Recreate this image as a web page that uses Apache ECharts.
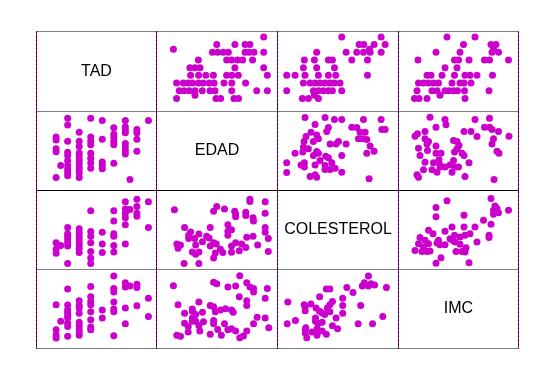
<!DOCTYPE html>
<html>
<head>
<meta charset="utf-8">
<script src="https://cdn.jsdelivr.net/npm/echarts@6/dist/echarts.min.js"></script>
<style>
html,body{margin:0;padding:0;background:#fff;}
#chart{width:554px;height:380px;}
</style>
</head>
<body>
<div id="chart"></div>
<script>
// Variables of the scatterplot matrix
const variables = ['TAD', 'EDAD', 'COLESTEROL', 'IMC'];
const varMin = [51.5, 20, 140, 16];
const varMax = [103.5, 70, 340, 40];

// Pair TAD / EDAD
const tadA = [100, 95,95,95,95, 92, 90,90,90,90,90,90,90,90, 85,85,85,85,85,85, 80,80,80,80,80,
  75,75,75,75,75,75,75,75, 70,70,70,70,70,70,70,70,70,70,70, 65,65,65,65,65,65,65,65,65,65, 62, 60,60,60,60,60];
const edadA = [64.3, 44.9,52.4,56.6,58.6, 27.0, 43.1,45.3,47.6,49.7,56.6,58.3,60.3,64.3, 37.3,49.0,51.1,53.5,55.6,59.7,
  33.8,35.9,38.0,52.4,64.3, 34.1,37.4,40.4,43.5,49.0,51.1,53.8,65.8,
  28.3,31.1,33.1,34.9,37.3,39.3,41.8,43.8,47.9,51.1,56.8, 29.4,31.4,33.6,35.9,38.9,42.1,44.2,51.1,61.4,65.8,
  35.9, 28.3,44.6,46.5,52.0,53.9];

// Pair TAD / COLESTEROL
const tadB = [100,100, 95,95,95,95, 92, 90,90,90,90,90,90, 85,85,85,85,85,85, 80,80,80,
  75,75,75,75,75,75,75, 70,70,70,70,70,70,70,70, 65,65,65,65,65,65,65, 62, 60,60,60];
const colB = [246.2,311.3, 274.9,282.6,299.7,317.9, 292.0, 204.8,253.4,271.0,282.1,293.1,311.3,
  184.4,201.0,224.1,230.8,262.8,288.7, 182.8,204.8,234.1,
  155.2,169.0,185.5,207.6,224.1,236.3,288.7, 182.8,193.8,202.1,210.3,218.6,226.9,234.1,243.4,
  155.2,199.3,207.6,215.9,224.1,230.8,246.2, 201.0, 181.1,191.0,207.6];

// Pair TAD / IMC
const tadC = [100,100, 95,95,95, 92, 90,90,90,90, 85,85,85,85,85,85,85, 80,80,
  75,75,75,75,75,75,75,75, 70,70,70,70,70,70,70,70,70, 65,65,65,65,65,65,65,65,65, 62, 60,60,60,60];
const imcC = [25.7,31.3, 29.0,34.5,35.5, 35.0, 23.5,28.3,34.7,36.0, 19.9,27.2,28.0,30.1,33.2,34.2,38.0, 25.3,27.7,
  21.7,22.5,24.7,27.2,29.3,30.3,31.7,34.8, 20.0,21.0,22.0,23.0,24.0,26.7,28.3,29.1,30.5,
  19.7,22.7,23.7,25.3,26.1,27.0,27.8,29.2,34.1, 24.3, 19.2,20.1,21.7,29.3];

// Pair EDAD / COLESTEROL
const edadD = [66.2,66.2,64.9,64.9,64.9,64.9,61.8,59.9,57.3,56.9,54.2,55.2,52.7,51.0,51.0,60.1,59.9,56.9,56.9,52.7,
  52.3,58.6,58.6,51.0,49.5,49.5,49.5,48.1,44.9,43.6,43.6,47.4,46.4,44.3,44.7,42.2,43.6,41.7,40.7,42.2,
  37.5,37.5,34.8,36.2,39.0,35.8,37.5,33.3,33.3,34.1,31.4,28.9,29.9,28.4,31.6,27.4,36.2,52.7];
const colD = [185.5,218.6,234.1,246.2,282.1,311.3,202.1,224.1,221.4,195.4,187.2,204.8,207.6,199.3,183.9,262.8,271.0,276.5,284.8,280.4,
  287.6,312.4,317.9,240.7,236.8,226.9,253.4,293.1,299.7,287.6,169.0,182.8,191.0,181.7,204.8,199.3,207.6,219.7,224.1,246.2,
  155.2,184.4,184.4,202.1,210.3,218.6,229.7,218.6,226.9,235.2,155.2,193.8,202.1,204.8,246.2,291.4,178.9,273.8];

// Pair EDAD / IMC
const edadE = [66.4,64.9,61.6,64.9,65.8,60.1,57.3,54.4,55.9,57.3,57.3,54.2,60.1,60.1,58.6,57.3,54.4,52.7,51.0,49.5,
  48.1,46.8,45.3,42.2,43.6,43.6,51.7,51.0,48.5,46.4,43.6,42.2,44.3,52.7,49.5,44.9,43.6,37.9,37.5,39.4,
  36.2,34.8,36.2,39.0,34.8,34.8,37.5,33.1,33.1,31.6,31.6,29.9,28.4,28.9,27.0,34.8];
const imcE = [22.3,25.3,25.5,31.3,34.2,23.5,21.3,19.3,19.8,29.1,30.5,31.7,33.2,34.2,34.7,36.0,38.1,21.3,22.0,21.7,
  23.5,20.0,21.8,20.3,23.5,24.5,27.0,27.7,28.1,27.7,28.7,29.1,27.2,35.0,34.7,35.7,36.1,21.3,23.0,24.1,
  24.3,25.3,26.3,27.0,27.3,28.0,30.1,21.0,22.7,23.7,26.7,19.7,20.0,29.3,35.1,24.3];

// Pair COLESTEROL / IMC
const colF = [320.0,314.0,297.1,300.5,290.3,294.5,283.5,280.1,290.3,273.3,277.5,264.8,254.6,239.3,230.8,236.8,247.8,247.8,247.8,220.7,
  213.9,205.4,188.4,196.9,205.4,185.8,186.7,207.1,213.9,202.8,202.8,218.1,226.6,222.4,226.6,230.8,209.6,203.7,213.9,185.8,
  185.8,195.2,209.6,226.6,220.7,169.7,156.1,157.0,184.1,185.8];
const imcF = [34.5,25.7,23.5,35.3,35.0,35.7,36.0,35.0,38.0,23.5,29.1,33.0,34.5,22.0,22.9,25.3,26.7,29.1,31.3,20.3,
  21.3,20.0,19.3,21.0,22.0,21.7,22.3,23.7,24.0,24.3,25.3,26.3,27.2,28.3,29.3,30.3,27.3,28.3,26.8,27.5,
  28.7,29.5,31.7,34.1,34.1,24.5,23.5,30.1,29.3,20.7];

const pairs = [
  {a: 0, b: 1, va: tadA, vb: edadA},
  {a: 0, b: 2, va: tadB, vb: colB},
  {a: 0, b: 3, va: tadC, vb: imcC},
  {a: 1, b: 2, va: edadD, vb: colD},
  {a: 1, b: 3, va: edadE, vb: imcE},
  {a: 2, b: 3, va: colF, vb: imcF}
];

// layout
const X = [36.5, 156.5, 277.5, 398.5, 518.5];
const Y = [31.5, 111.5, 190.5, 269.5, 348.5];
const MARK = '#CC00CC';

const grids = [], xAxes = [], yAxes = [], series = [];
const gridIndex = {};
for (let r = 0; r < 4; r++) {
  for (let c = 0; c < 4; c++) {
    if (r === c) continue;
    const gi = grids.length;
    gridIndex[r + '_' + c] = gi;
    grids.push({left: X[c], top: Y[r], width: X[c + 1] - X[c], height: Y[r + 1] - Y[r], containLabel: false});
    xAxes.push({gridIndex: gi, type: 'value', min: varMin[c], max: varMax[c], show: false});
    yAxes.push({gridIndex: gi, type: 'value', min: varMin[r], max: varMax[r], show: false});
  }
}
function addSeries(row, col, xs, ys) {
  const gi = gridIndex[row + '_' + col];
  series.push({
    type: 'scatter', xAxisIndex: gi, yAxisIndex: gi,
    symbol: 'circle', symbolSize: 7, clip: false,
    itemStyle: {color: MARK, opacity: 1},
    data: xs.map((v, k) => [v, ys[k]])
  });
}
pairs.forEach(p => {
  addSeries(p.a, p.b, p.vb, p.va); // upper: x = var b, y = var a
  addSeries(p.b, p.a, p.va, p.vb); // lower: x = var a, y = var b
});

const graphics = [];
// vertical lines: magenta with black dashes
X.forEach(x => {
  graphics.push({type: 'line', shape: {x1: x, y1: Y[0], x2: x, y2: Y[4]}, style: {stroke: MARK, lineWidth: 1}, z: 100});
  graphics.push({type: 'line', shape: {x1: x, y1: Y[0], x2: x, y2: Y[4]}, style: {stroke: '#000', lineWidth: 1, lineDash: [2, 2]}, z: 101});
});
// horizontal lines: dotted black, the middle one solid
Y.forEach((y, i) => {
  graphics.push({type: 'line', shape: {x1: X[0], y1: y, x2: X[4], y2: y},
    style: {stroke: '#000', lineWidth: 1, lineDash: i === 2 ? null : [1, 1]}, z: 102});
});
// diagonal labels
variables.forEach((name, i) => {
  graphics.push({type: 'text', x: (X[i] + X[i + 1]) / 2, y: (Y[i] + Y[i + 1]) / 2, z: 103,
    style: {text: name, fill: '#000', font: '16px "Liberation Sans", Arial, sans-serif', align: 'center', verticalAlign: 'middle'}});
});

const chart = echarts.init(document.getElementById('chart'), null, {renderer: 'canvas'});
chart.setOption({
  animation: false,
  backgroundColor: '#fff',
  grid: grids, xAxis: xAxes, yAxis: yAxes,
  series: series,
  graphic: graphics
});
</script>
</body>
</html>
